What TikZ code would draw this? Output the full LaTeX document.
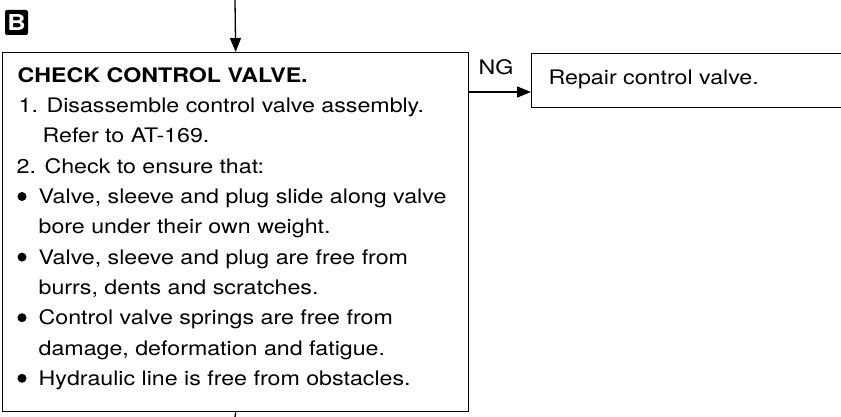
\documentclass[tikz,border=0pt]{standalone}
\usepackage{fontspec}
\setmainfont{TeX Gyre Heros}[FakeStretch=1.16]
\usetikzlibrary{arrows.meta}

\begin{document}
\begin{tikzpicture}[x=1pt,y=-1pt,line width=1.3pt,
  box/.style={draw,rectangle,anchor=north west,inner sep=0pt},
  textline/.style={anchor=base west,inner sep=0pt,font=\fontsize{20}{24}\selectfont},
  arr/.style={-{Triangle[length=14pt,width=11pt]}}]
  \useasboundingbox (0,0) rectangle (841,417);
  \clip (0,0) rectangle (841,417);

  % Step label
  \node[fill=black,text=white,rounded corners=2pt,minimum width=23pt,minimum height=25pt,inner sep=0pt,font=\fontsize{22}{22}\selectfont\bfseries] (stepB) at (16.5,22.5) {B};

  % Check box and its lines
  \node[box,minimum width=466pt,minimum height=359pt] (check) at (2,52) {};
  \foreach \x/\txt [count=\i] in {17/{\bfseries CHECK CONTROL VALVE.},
      18/{1. Disassemble control valve assembly.},
      42/{Refer to AT-169.},
      16/{2. Check to ensure that:},
      38/{Valve, sleeve and plug slide along valve},
      38/{bore under their own weight.},
      38/{Valve, sleeve and plug are free from},
      38/{burrs, dents and scratches.},
      38/{Control valve springs are free from},
      38/{damage, deformation and fatigue.},
      38/{Hydraulic line is free from obstacles.}} {
    \node[textline] (line\i) at (\x,52+30.3*\i) {\txt};
  }

  % Bullets
  \foreach \i in {5,7,9,11} {
    \fill ([xshift=-16pt,yshift=7pt]line\i.base west) circle (4.5pt);
  }

  % Repair box
  \node[box,minimum width=330pt,minimum height=54pt] (repair) at (531,53) {};
  \node[textline] (repairtext) at (548,85) {Repair control valve.};
  \node[textline] (ng) at (478,75) {NG};

  % Connectors
  \coordinate (in) at (235,0);
  \coordinate (out) at (235,417);
  \draw[arr] (in) -- (check.north);
  \draw[arr] ([yshift=-40pt]check.north east) -- ([yshift=-39pt]repair.north west);
  \draw (check.south) -- (out);
\end{tikzpicture}
\end{document}
